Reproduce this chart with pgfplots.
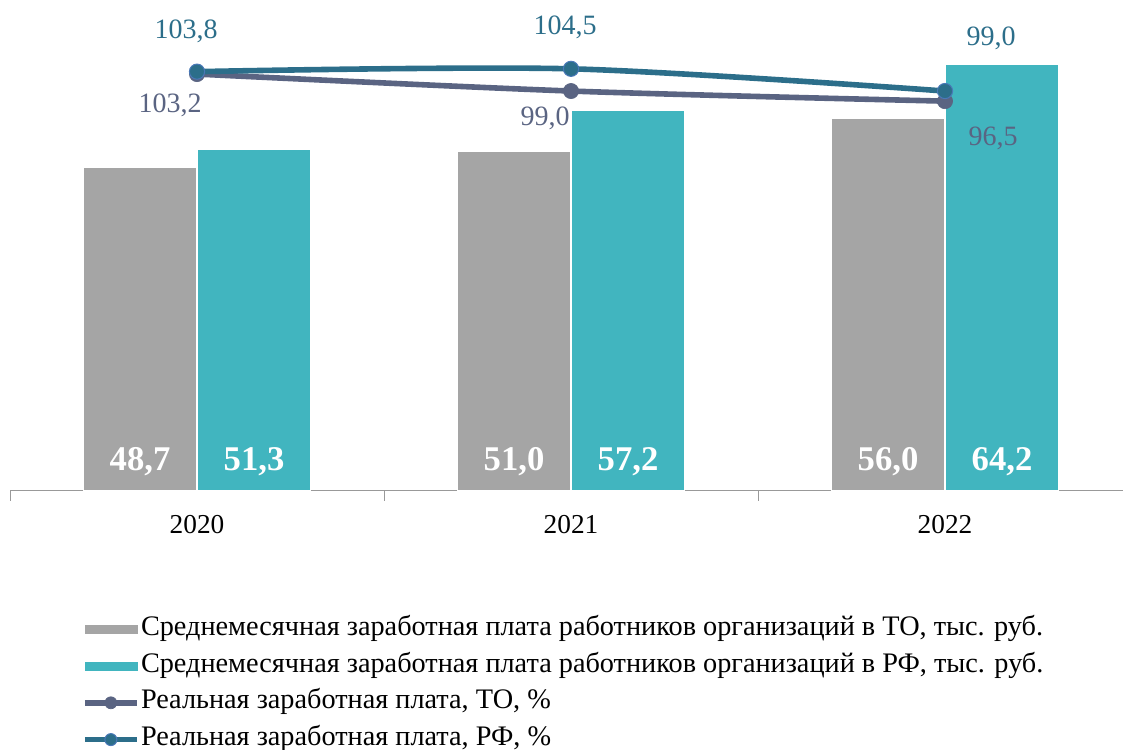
\documentclass[border=0pt]{standalone}
\usepackage{fontspec}
\setmainfont{Liberation Serif}
\usepackage{pgfplots}
\pgfplotsset{compat=1.18}
\usepackage{pgfplotstable}

\definecolor{barTO}{HTML}{A5A5A5}
\definecolor{barRF}{HTML}{41B5BF}
\definecolor{lineTO}{HTML}{5A6482}
\definecolor{lineRF}{HTML}{2C6E8A}
\definecolor{markRF}{HTML}{4A78B8}

\pgfplotstableread{
x y
0 48.7
1 51.0
2 56.0
}\barTO
\pgfplotstableread{
x y
0 51.3
1 57.2
2 64.2
}\barRF
% dx, dy: label offsets (pt)
\pgfplotstableread{
x y dx dy
0 103.2 -20.25 -23.25
1 99.0 -19.5 -20.25
2 96.5 36 -27.75
}\lineTO
\pgfplotstableread{
x y dx dy
0 103.8 -8.25 30
1 104.5 -4.5 30.75
2 99.0 34.5 39.75
}\lineRF

\begin{document}
\begin{tikzpicture}
\useasboundingbox (0pt,0pt) rectangle (842.25pt,561.75pt);
\begin{axis}[
  at={(7.5pt,193.5pt)}, anchor=south west,
  width=841.5pt, height=364.5pt, scale only axis,
  xmin=-0.5, xmax=2.5, ymin=0, ymax=73.08,
  axis y line=none, axis x line*=bottom,
  axis line style={color=black!40, line width=0.75pt},
  xtick={0,1,2}, xticklabels={2020,2021,2022},
  major tick length=0pt,
  minor xtick={-0.5,0.5,1.5,2.5}, minor tick length=7.5pt,
  tick align=outside,
  minor tick style={color=black!40, line width=0.75pt},
  xticklabel style={font=\fontsize{20.5}{24}\selectfont, text=black, yshift=-14.5pt},
  clip=false,
]
\addplot[ybar, bar width=84.75pt, bar shift=-42.75pt, fill=barTO, draw=white, line width=0.75pt] table[x=x,y=y] {\barTO};
\addplot[ybar, bar width=84.75pt, bar shift=42.75pt, fill=barRF, draw=white, line width=0.75pt] table[x=x,y=y] {\barRF};
\addplot[draw=none, mark=none, point meta=explicit,
  nodes near coords={\pgfmathprintnumber[fixed,fixed zerofill,precision=1,use comma,assume math mode=true]{\pgfplotspointmeta}},
  nodes near coords style={anchor=center, xshift=-42.75pt, yshift=21.75pt, text=white, font=\fontsize{26}{30}\selectfont\bfseries}]
  table[x=x, y expr=0, meta=y] {\barTO};
\addplot[draw=none, mark=none, point meta=explicit,
  nodes near coords={\pgfmathprintnumber[fixed,fixed zerofill,precision=1,use comma,assume math mode=true]{\pgfplotspointmeta}},
  nodes near coords style={anchor=center, xshift=42.75pt, yshift=21.75pt, text=white, font=\fontsize{26}{30}\selectfont\bfseries}]
  table[x=x, y expr=0, meta=y] {\barRF};
\end{axis}
\begin{axis}[
  at={(7.5pt,193.5pt)}, anchor=south west,
  width=841.5pt, height=364.5pt, scale only axis,
  xmin=-0.5, xmax=2.5, ymin=0, ymax=120.3,
  hide axis, clip=false,
  legend style={at={(axis description cs:0.064,-0.255)}, anchor=north west,
    draw=none, fill=none, inner sep=0pt, row sep=6.6pt,
    font=\fontsize{21.2}{24}\selectfont,
    nodes={inner sep=1pt, text height=14pt, text depth=5pt}},
  legend cell align=left,
]
\addlegendimage{legend image code/.code={\fill[barTO] (0pt,-3pt) rectangle (39pt,3pt);}}
\addlegendentry{Среднемесячная заработная плата работников организаций в ТО, тыс. руб.}
\addlegendimage{legend image code/.code={\fill[barRF] (0pt,-3pt) rectangle (39pt,3pt);}}
\addlegendentry{Среднемесячная заработная плата работников организаций в РФ, тыс. руб.}
\addplot[smooth, color=lineTO, line width=4.2pt, mark=*, mark size=5.7pt,
  mark options={fill=lineTO, draw=lineTO, line width=0.5pt},
  legend image code/.code={\draw[mark repeat=2,mark phase=2, mark size=4.5pt] plot coordinates {(0pt,0pt) (19.5pt,0pt) (39pt,0pt)};},
  point meta=explicit,
  visualization depends on={\thisrow{dx} \as \dx},
  visualization depends on={\thisrow{dy} \as \dy},
  nodes near coords={\pgfmathprintnumber[fixed,fixed zerofill,precision=1,use comma,assume math mode=true]{\pgfplotspointmeta}},
  nodes near coords style={anchor=center, xshift=\dx pt, yshift=\dy pt, text=lineTO, font=\fontsize{21}{24}\selectfont}]
  table[x=x, y=y, meta=y] {\lineTO};
\addlegendentry{Реальная заработная плата, ТО, \%}
\addplot[smooth, color=lineRF, line width=4.2pt, mark=*, mark size=5.7pt,
  mark options={fill=lineRF, draw=markRF, line width=0.75pt},
  legend image code/.code={\draw[mark repeat=2,mark phase=2, mark size=4.5pt] plot coordinates {(0pt,0pt) (19.5pt,0pt) (39pt,0pt)};},
  point meta=explicit,
  visualization depends on={\thisrow{dx} \as \dx},
  visualization depends on={\thisrow{dy} \as \dy},
  nodes near coords={\pgfmathprintnumber[fixed,fixed zerofill,precision=1,use comma,assume math mode=true]{\pgfplotspointmeta}},
  nodes near coords style={anchor=center, xshift=\dx pt, yshift=\dy pt, text=lineRF, font=\fontsize{21}{24}\selectfont}]
  table[x=x, y=y, meta=y] {\lineRF};
\addlegendentry{Реальная заработная плата, РФ, \%}
\end{axis}
\end{tikzpicture}
\end{document}
